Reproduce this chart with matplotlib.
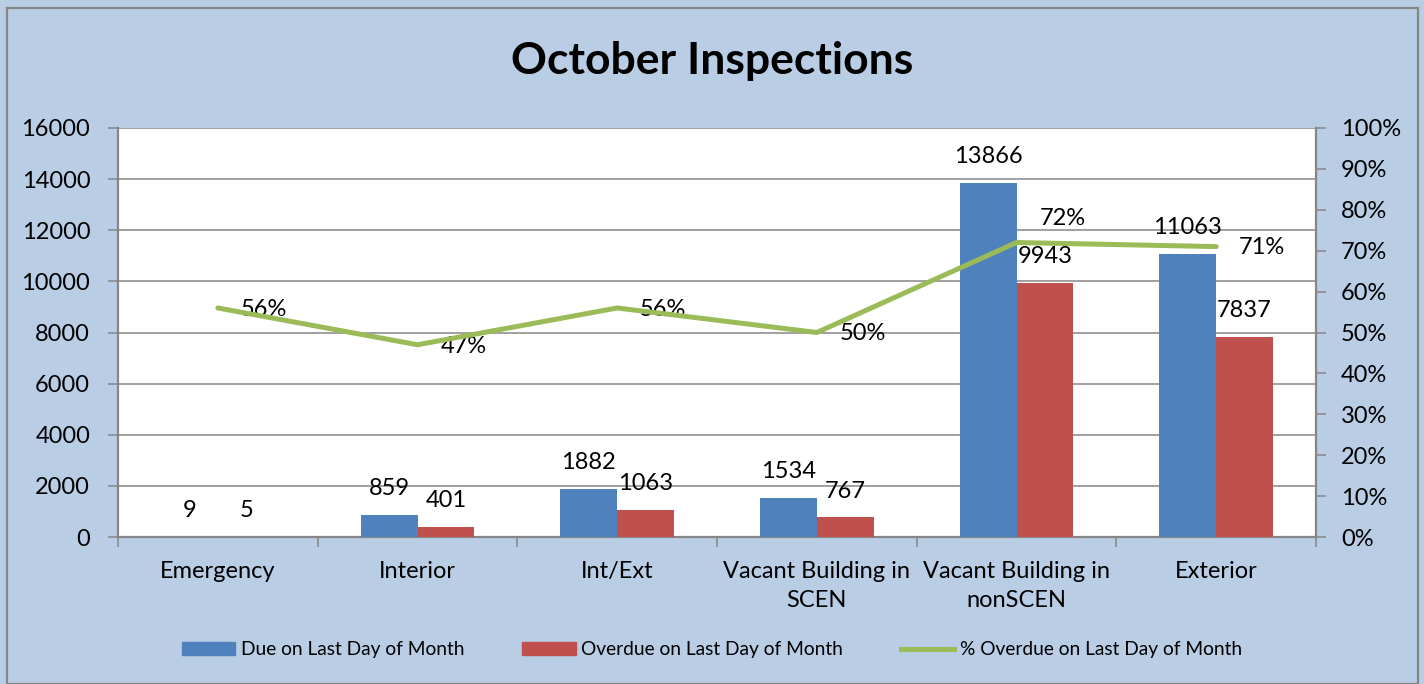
import numpy as np
import matplotlib.pyplot as plt
from matplotlib.patches import Rectangle, Patch
from matplotlib.lines import Line2D
from matplotlib.ticker import FuncFormatter, FixedLocator

plt.rcParams['font.family'] = ['Lato', 'DejaVu Sans']

categories = ["Emergency", "Interior", "Int/Ext", "Vacant Building in\nSCEN",
              "Vacant Building in\nnonSCEN", "Exterior"]
due = [9, 859, 1882, 1534, 13866, 11063]
overdue = [5, 401, 1063, 767, 9943, 7837]
pct_overdue = [0.56, 0.47, 0.56, 0.50, 0.72, 0.71]

blue = '#4F81BD'
red = '#C0504D'
green = '#9BBB59'
grey = '#868686'
bg = '#B9CDE5'

W, H = 1424, 684
fig = plt.figure(figsize=(W / 100, H / 100), dpi=100, facecolor=bg)
fig.patches.append(Rectangle((7 / W, 0), 1411 / W, 676 / H, transform=fig.transFigure,
                             facecolor='none', edgecolor=grey, lw=1.6))

ax = fig.add_axes([118 / W, 1 - 537 / H, 1198 / W, 409 / H])
ax.set_facecolor('white')
x = np.arange(len(categories))
bw = 0.285
ax.bar(x - bw / 2, due, bw, color=blue, zorder=3)
ax.bar(x + bw / 2, overdue, bw, color=red, zorder=3)
ax.set_xlim(-0.5, len(categories) - 0.5)
ax.set_ylim(0, 16000)
ax.set_yticks(np.arange(0, 16001, 2000))
ax.yaxis.grid(True, color=grey, lw=1.1, zorder=0)
ax.set_xticks(x)
ax.set_xticklabels(categories, fontsize=17, linespacing=1.5)
ax.xaxis.set_minor_locator(FixedLocator(np.arange(-0.5, len(categories), 1)))
ax.tick_params(axis='x', which='major', length=0, pad=17)
ax.tick_params(axis='x', which='minor', length=7, width=1.1, color=grey)
ax.tick_params(axis='y', length=7, width=1.1, color=grey, labelsize=17, pad=13)
for s in ['top', 'right']:
    ax.spines[s].set_visible(False)
for s in ['left', 'bottom']:
    ax.spines[s].set_color(grey)
    ax.spines[s].set_linewidth(1.6)

for i in range(len(categories)):
    ax.annotate(str(due[i]), (x[i] - bw / 2, due[i]), xytext=(0, 19), textcoords='offset points',
                ha='center', va='center', fontsize=17)
    ax.annotate(str(overdue[i]), (x[i] + bw / 2, overdue[i]), xytext=(0, 19), textcoords='offset points',
                ha='center', va='center', fontsize=17)

ax2 = ax.twinx()
ax2.plot(x, pct_overdue, color=green, lw=3.6, solid_capstyle='round', zorder=4)
ax2.set_ylim(0, 1)
ax2.set_yticks(np.arange(0, 1.01, 0.1))
ax2.yaxis.set_major_formatter(FuncFormatter(lambda v, p: f"{v * 100:.0f}%"))
ax2.tick_params(axis='y', length=7, width=1.1, color=grey, labelsize=17, pad=11)
for s in ['top', 'left', 'bottom']:
    ax2.spines[s].set_visible(False)
ax2.spines['right'].set_color(grey)
ax2.spines['right'].set_linewidth(1.6)
for i, p in enumerate(pct_overdue):
    dy = 17 if i == 4 else -1
    ax2.annotate(f"{p * 100:.0f}%", (x[i], p), xytext=(33, dy), textcoords='offset points',
                 ha='center', va='center', fontsize=17)

fig.text(0.5, 1 - 61 / H, "October Inspections", ha='center', va='center',
         fontsize=32, fontweight='bold')

handles = [Patch(color=blue), Patch(color=red), Line2D([], [], color=green, lw=3.6)]
labels = ["Due on Last Day of Month", "Overdue on Last Day of Month", "% Overdue on Last Day of Month"]
fig.legend(handles, labels, loc='center', bbox_to_anchor=(0.5, 1 - 650 / H), ncol=3,
           frameon=False, fontsize=13.8, handlelength=2.8, handleheight=0.65,
           handletextpad=0.3, columnspacing=3.0)

fig.savefig('out.png', dpi=100, facecolor=bg)
